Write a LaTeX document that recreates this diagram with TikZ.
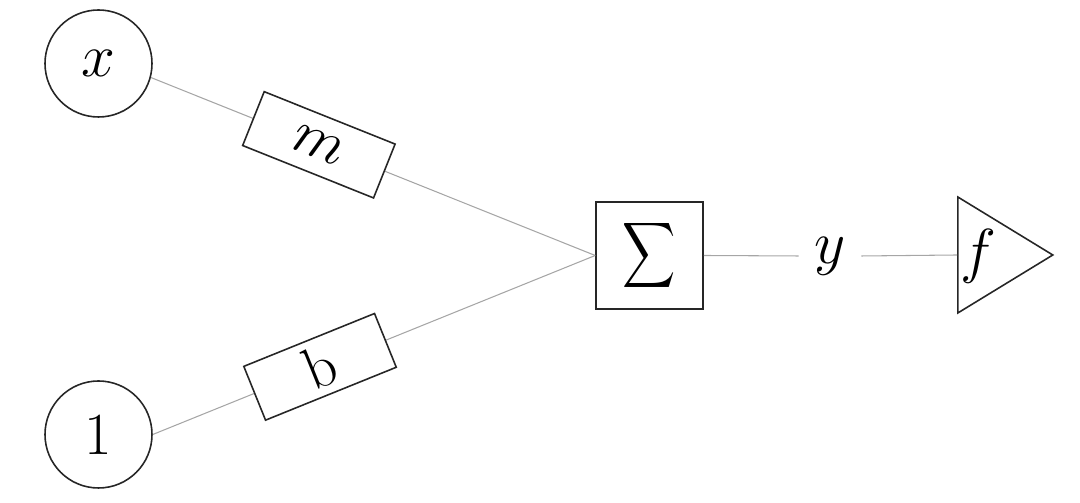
\documentclass[tikz,border=0pt]{standalone}
\usetikzlibrary{shapes.geometric}
\tikzset{
  unit/.style={draw=black!85,line width=0.45pt,circle,minimum size=1.07cm,inner sep=0pt,font=\fontsize{17}{20}\selectfont},
  weight/.style={draw=black!85,line width=0.45pt,fill=white,minimum width=1.41cm,minimum height=0.58cm,inner sep=0pt,sloped,font=\fontsize{17}{20}\selectfont},
  wire/.style={draw=black!35,line width=0.3pt},
  sumbox/.style={draw=black!85,line width=0.45pt,minimum size=1.07cm,inner sep=0pt,font=\fontsize{17}{20}\selectfont},
  actbox/.style={draw=black!85,line width=0.45pt,isosceles triangle,isosceles triangle stretches,minimum width=1.16cm,minimum height=0.95cm,inner sep=0pt},
}
\begin{document}
\begin{tikzpicture}
  \useasboundingbox (0,0) rectangle (10.8,5.03);
  % inputs
  \node[unit] (x) at (0.985,4.395) {$x$};
  \node[unit] (one) at (0.985,0.685) {1};
  % summation and activation
  \node[sumbox] (sum) at (6.495,2.475) {\scalebox{1.05}[1.3]{$\displaystyle\sum$}};
  \node[actbox,anchor=west] (act) at (9.57,2.48) {};
  \node[font=\fontsize{17}{20}\selectfont,inner sep=0.15cm] (y) at (8.3,2.47) {$y$};
  \node[font=\fontsize{17}{20}\selectfont,inner sep=0pt] (flab) at (9.78,2.47) {$f$};
  % weighted connections
  \draw[wire] (x.-15) -- node[weight,pos=0.378] (wm) {$m$} (sum.west);
  \draw[wire] (one.east) -- node[weight,pos=0.378] (wb) {b} (sum.west);
  \draw[wire] (sum.east) -- (y.west);
  \draw[wire] (y.east) -- (act.west);
\end{tikzpicture}
\end{document}
